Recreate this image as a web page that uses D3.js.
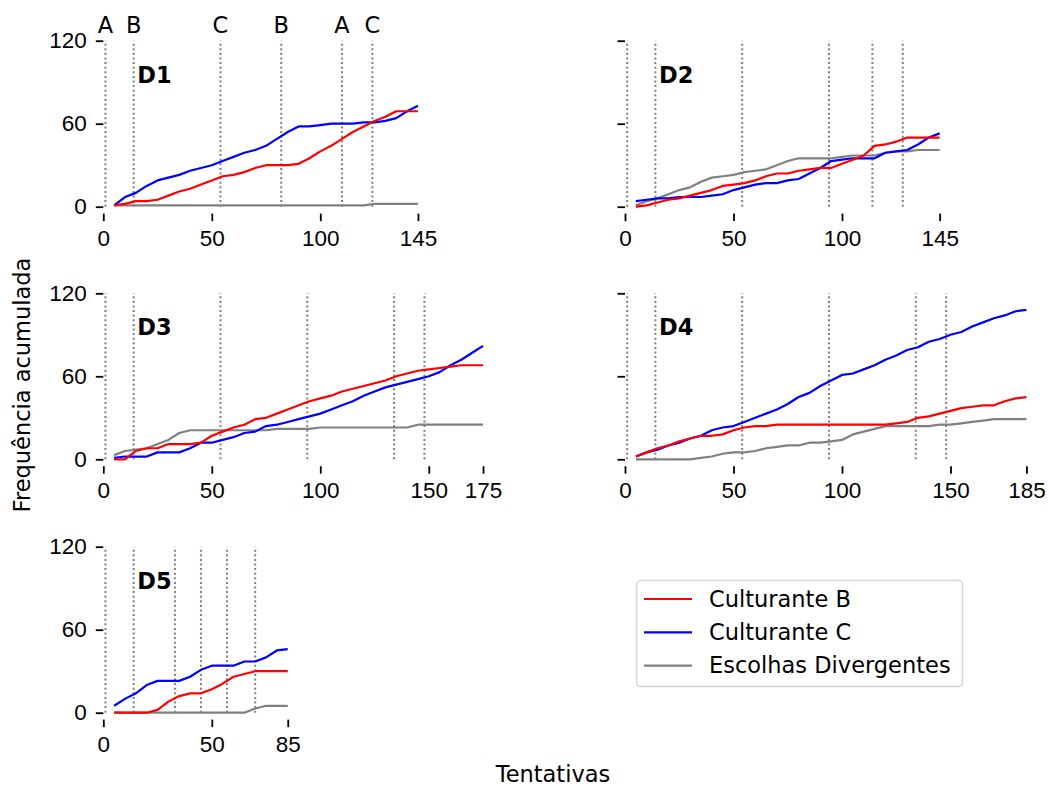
<!DOCTYPE html>
<html>
<head>
<meta charset="utf-8">
<script src="https://cdn.jsdelivr.net/npm/d3@7"></script>
<style>
  body { margin: 0; background: #fff; }
  svg { display: block; font-family: "DejaVu Sans", sans-serif; }
  .tick line { stroke: #000; stroke-width: 1.8; }
  .tick text { font-size: 22.5px; fill: #000; }
</style>
</head>
<body>
<div id="chart"></div>
<script>
// Data: cumulative frequency every 5 trials
var trialsD1 = [5,10,15,20,25,30,35,40,45,50,55,60,65,70,75,80,85,90,95,100,105,110,115,120,125,130,135,140,145]
var culturanteBD1 = [1,2,4,4,5,8,11,13,16,19,22,23,25,28,30,30,30,31,35,40,44,49,54,58,62,65,69,69,69]
var culturanteCD1 = [1,7,10,15,19,21,23,26,28,30,33,36,39,41,44,49,54,58,58,59,60,60,60,61,61,62,64,69,73]
var divergentesD1 = [1,1,1,1,1,1,1,1,1,1,1,1,1,1,1,1,1,1,1,1,1,1,1,1,2,2,2,2,2]
var linhasD1 = [1,14,54,82,110,124]
var letrasD1 = ['A','B','C','B','A','C']
var ticksD1 = [0,50,100,145]

var trialsD2 = [5,10,15,20,25,30,35,40,45,50,55,60,65,70,75,80,85,90,95,100,105,110,115,120,125,130,135,140,145]
var culturanteBD2 = [0,1,3,5,6,8,10,12,15,16,17,19,22,24,24,26,27,28,28,31,34,37,44,45,47,50,50,50,50]
var culturanteCD2 = [4,5,6,6,7,7,7,8,9,12,14,16,17,17,19,20,24,28,33,34,35,35,35,39,40,41,45,50,53]
var divergentesD2 = [1,4,6,9,12,14,18,21,22,23,25,26,27,30,33,35,35,35,35,36,37,37,37,39,40,40,41,41,41]
var linhasD2 = [1,14,54,94,114,128]
var ticksD2 = [0,50,100,145]

var trialsD3 = [5,10,15,20,25,30,35,40,45,50,55,60,65,70,75,80,85,90,95,100,105,110,115,120,125,130,135,140,145,150,155,160,165,170,175]
var culturanteBD3 = [0,0,6,8,8,11,11,11,12,17,20,23,25,29,30,33,36,39,42,44,46,49,51,53,55,57,60,62,64,65,66,67,68,68,68]
var culturanteCD3 = [1,2,2,2,5,5,5,8,12,12,14,16,19,20,24,25,27,29,31,33,36,39,42,46,49,52,54,56,58,60,63,68,72,77,82]
var divergentesD3 = [3,6,7,8,11,14,19,21,21,21,21,21,21,21,21,22,22,22,22,23,23,23,23,23,23,23,23,23,25,25,25,25,25,25,25]
var linhasD3 = [1,14,54,94,134,148]
var ticksD3 = [0,50,100,150,175]

var trialsD4 = [5,10,15,20,25,30,35,40,45,50,55,60,65,70,75,80,85,90,95,100,105,110,115,120,125,130,135,140,145,150,155,160,165,170,175,180,185]
var culturanteBD4 = [2,5,8,10,13,15,17,17,18,21,23,24,24,25,25,25,25,25,25,25,25,25,25,25,26,27,30,31,33,35,37,38,39,39,42,44,45]
var culturanteCD4 = [2,5,7,10,12,15,17,21,23,24,27,30,33,36,40,45,48,53,57,61,62,65,68,72,75,79,81,85,87,90,92,96,99,102,104,107,108]
var divergentesD4 = [0,0,0,0,0,0,1,2,4,5,5,6,8,9,10,10,12,12,13,14,18,20,22,24,24,24,24,24,25,25,26,27,28,29,29,29,29]
var linhasD4 = [1,14,54,94,134,148]
var ticksD4 = [0,50,100,150,185]

var trialsD5 = [5,10,15,20,25,30,35,40,45,50,55,60,65,70,75,80,85]
var culturanteBD5 = [0,0,0,0,2,8,12,14,14,17,21,26,28,30,30,30,30]
var culturanteCD5 = [5,10,14,20,23,23,23,26,31,34,34,34,37,37,40,45,46]
var divergentesD5 = [0,0,0,0,0,0,0,0,0,0,0,0,0,3,5,5,5]
var linhasD5 = [1,14,33,45,57,70]
var ticksD5 = [0,50,85]

var yTicks = [0,60,120]
var seriesNames = ['Culturante B', 'Culturante C', 'Escolhas Divergentes']
var seriesColors = ['#ff0000', '#0000ff', '#808080']

// Layout
var width = 1049, height = 787
var pxPerTrial = 2.17, pxPerCount = 1.3833
var colLeft = [103.3, 625]
var rowTop = [40.7, 293.3, 546.7]
var panelHeight = 125 * pxPerCount

var panels = [
  { name: 'D1', row: 0, col: 0, trials: trialsD1, b: culturanteBD1, c: culturanteCD1, div: divergentesD1, linhas: linhasD1, ticks: ticksD1, letras: letrasD1 },
  { name: 'D2', row: 0, col: 1, trials: trialsD2, b: culturanteBD2, c: culturanteCD2, div: divergentesD2, linhas: linhasD2, ticks: ticksD2 },
  { name: 'D3', row: 1, col: 0, trials: trialsD3, b: culturanteBD3, c: culturanteCD3, div: divergentesD3, linhas: linhasD3, ticks: ticksD3 },
  { name: 'D4', row: 1, col: 1, trials: trialsD4, b: culturanteBD4, c: culturanteCD4, div: divergentesD4, linhas: linhasD4, ticks: ticksD4 },
  { name: 'D5', row: 2, col: 0, trials: trialsD5, b: culturanteBD5, c: culturanteCD5, div: divergentesD5, linhas: linhasD5, ticks: ticksD5 }
]

var svg = d3.select("#chart")
  .append("svg")
  .attr("width", width)
  .attr("height", height)

panels.forEach(function(p) {
  var xMax = p.ticks[p.ticks.length - 1]
  var left = colLeft[p.col]
  var top = rowTop[p.row]

  var xScale = d3.scaleLinear()
    .domain([0, xMax])
    .range([left, left + xMax * pxPerTrial])

  var yScale = d3.scaleLinear()
    .domain([-5, 120])
    .range([top + panelHeight, top])

  var g = svg.append('g').attr('class', 'panel ' + p.name)

  // Render dotted condition lines
  g.selectAll('.vline')
    .data(p.linhas)
    .enter()
    .append('line')
    .attr('class', 'vline')
    .attr('x1', d => xScale(d))
    .attr('x2', d => xScale(d))
    .attr('y1', yScale(0))
    .attr('y2', yScale(120))
    .style('stroke', '#808080')
    .style('stroke-width', 2)
    .style('stroke-dasharray', '2,2.6')

  // Letters above the first panel
  if (p.letras) {
    g.selectAll('.letra')
      .data(p.linhas)
      .enter()
      .append('text')
      .attr('x', d => xScale(d))
      .attr('y', top - 8)
      .attr('text-anchor', 'middle')
      .style('font-size', '22.5px')
      .text((d, i) => p.letras[i])
  }

  // Render X axis
  g.append('g')
    .attr('transform', `translate(0,${top + panelHeight})`)
    .call(d3.axisBottom(xScale).tickValues(p.ticks).tickSize(7.5).tickPadding(8.5).tickFormat(d => d))
    .call(a => a.select('.domain').remove())

  // Render Y axis
  g.append('g')
    .attr('transform', `translate(${left},0)`)
    .call(d3.axisLeft(yScale).tickValues(yTicks).tickSize(7.5).tickPadding(9)
      .tickFormat(d => p.col === 0 ? d : ''))
    .call(a => a.select('.domain').remove())

  // Render lines
  var line = d3.line()
    .x((d, i) => xScale(p.trials[i]))
    .y(d => yScale(d))

  var series = [p.div, p.c, p.b]
  var colors = [seriesColors[2], seriesColors[1], seriesColors[0]]
  series.forEach(function(s, k) {
    g.append('path')
      .datum(s)
      .attr('d', line)
      .style('fill', 'none')
      .style('stroke', colors[k])
      .style('stroke-width', 2.2)
      .style('stroke-linejoin', 'round')
  })

  // Panel label
  g.append('text')
    .attr('x', left + 34)
    .attr('y', top + 42)
    .style('font-size', '22.5px')
    .style('font-weight', 'bold')
    .text(p.name)
})

// Axis titles
svg.append('text')
  .attr('x', 553)
  .attr('y', 782)
  .attr('text-anchor', 'middle')
  .style('font-size', '22.5px')
  .text('Tentativas')

svg.append('text')
  .attr('transform', 'translate(30,385) rotate(-90)')
  .attr('text-anchor', 'middle')
  .style('font-size', '22.5px')
  .text('Frequência acumulada')

// Legend
var legend = svg.append('g').attr('class', 'legend')

legend.append('rect')
  .attr('x', 636.5)
  .attr('y', 580.5)
  .attr('width', 326)
  .attr('height', 106)
  .attr('rx', 4)
  .style('fill', '#fff')
  .style('stroke', '#d6d6d6')
  .style('stroke-width', 1.5)

var items = legend.selectAll('.item')
  .data(seriesNames)
  .enter()
  .append('g')
  .attr('transform', (d, i) => `translate(0,${599 + i * 33.3})`)

items.append('line')
  .attr('x1', 644)
  .attr('x2', 692)
  .style('stroke', (d, i) => seriesColors[i])
  .style('stroke-width', 2.2)

items.append('text')
  .attr('x', 709)
  .attr('dy', '0.35em')
  .style('font-size', '22.5px')
  .text(d => d)
</script>
</body>
</html>
